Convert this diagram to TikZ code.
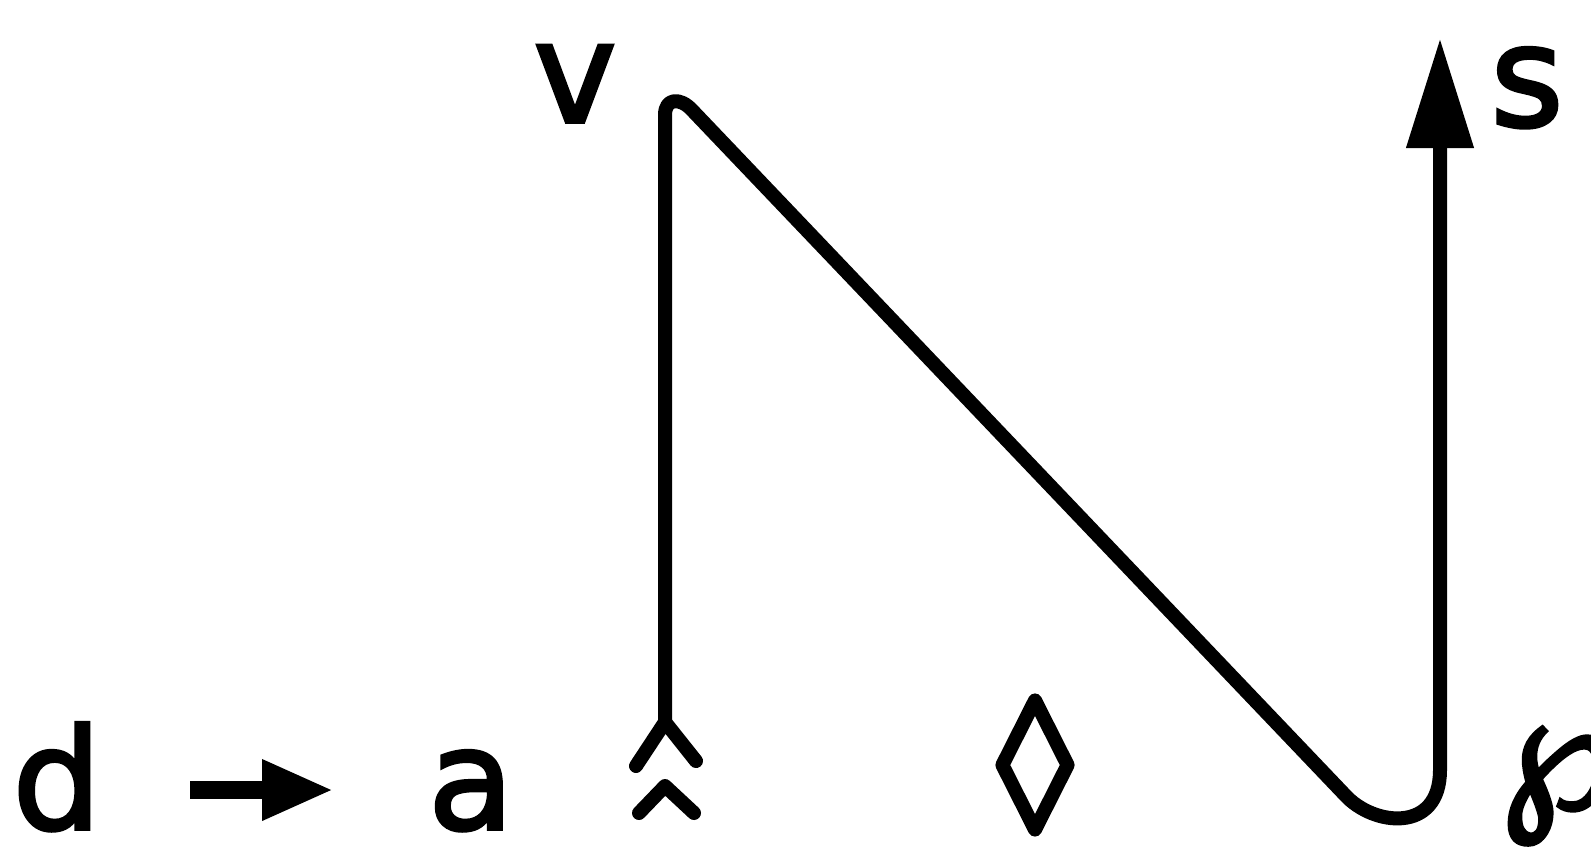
\documentclass[tikz,border=0pt]{standalone}
\usepackage{fontspec}
\setmainfont{DejaVu Sans}[FakeBold=2.5]
\usetikzlibrary{arrows.meta,shapes.geometric}
\tikzset{
  lbl/.style={inner sep=0pt, anchor=base, font=\fontsize{70}{70}\selectfont},
  pathline/.style={line width=7pt, line join=round, line cap=round},
}
\begin{document}
\begin{tikzpicture}[x=0.5pt,y=-0.5pt]
\useasboundingbox (0,0) rectangle (1591,853);
% labels
\node[lbl] (d) at (57,829) {d};
\node[lbl] (a) at (471,829) {a};
\node[lbl] (v) at (575,122) {v};
\node[lbl] (s) at (1527,126) {s};
\node[inner sep=0pt, font=\fontsize{82}{82}\selectfont] (sp) at (1558,786) {℘};
% d -> a arrow
\coordinate (p1) at (190,790);
\coordinate (p2) at (334,790);
\draw[line width=9pt, -{Triangle[length=36pt,width=28pt]}] (p1) -- (p2);
% main path
\coordinate (tail) at (665,722);
\coordinate (top) at (665,115);
\coordinate (bend) at (692,110);
\coordinate (low) at (1345,795);
\coordinate (rise) at (1440,770);
\coordinate (tipS) at (1440,38);
\draw[pathline, -{Triangle[length=55pt,width=32pt]}] (tail) -- (top)
  .. controls (665,98) and (680,97) .. (bend) -- (low)
  .. controls (1373,826) and (1440,834) .. (rise) -- (tipS);
% tail feathers
\coordinate (c1l) at (636,766);
\coordinate (c1r) at (696,761);
\coordinate (c2a) at (665,786);
\coordinate (c2l) at (639,813);
\coordinate (c2r) at (694,813);
\draw[pathline] (c1l) -- (tail) -- (c1r);
\draw[pathline] (c2l) -- (c2a) -- (c2r);
% diamond
\node[diamond, draw, line width=7pt, line join=round, inner sep=0pt,
      minimum width=35.5pt, minimum height=67.5pt] (dia) at (1035,765) {};
\end{tikzpicture}
\end{document}
